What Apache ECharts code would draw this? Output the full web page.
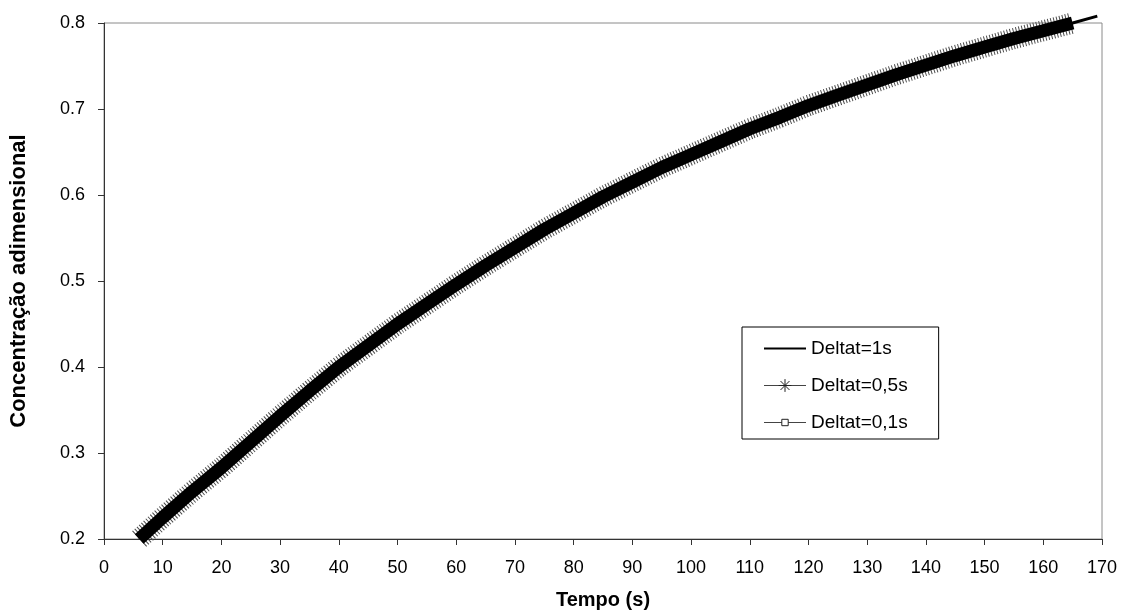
<!DOCTYPE html>
<html>
<head>
<meta charset="utf-8">
<script src="https://cdn.jsdelivr.net/npm/echarts@6/dist/echarts.min.js"></script>
<style>
    html, body { margin: 0; padding: 0; background: #fff; }
    #chart { width: 1123px; height: 616px; }
</style>
</head>
<body>
<div id="chart"></div>
<script>
// tempo (s)
const tempo = [6, 10, 15, 20, 25, 30, 35, 40, 45, 50, 55, 60, 65, 70, 75, 80, 85, 90, 95, 100,
    105, 110, 115, 120, 125, 130, 135, 140, 145, 150, 155, 160, 165, 169.2];

// concentração adimensional
const concDelta1 = [0.200, 0.225, 0.255, 0.283, 0.313, 0.343, 0.372, 0.400, 0.425, 0.450, 0.473, 0.496,
    0.518, 0.539, 0.560, 0.579, 0.598, 0.615, 0.632, 0.647, 0.662, 0.677, 0.690, 0.704, 0.716, 0.728,
    0.740, 0.751, 0.762, 0.772, 0.782, 0.791, 0.800, 0.808];
const concDelta05 = [0.200, 0.225, 0.255, 0.283, 0.313, 0.343, 0.372, 0.400, 0.425, 0.450, 0.473, 0.496,
    0.518, 0.539, 0.560, 0.579, 0.598, 0.615, 0.632, 0.647, 0.662, 0.677, 0.690, 0.704, 0.716, 0.728,
    0.740, 0.751, 0.762, 0.772, 0.782, 0.791, 0.800];
const concDelta01 = [0.200, 0.225, 0.255, 0.283, 0.313, 0.343, 0.372, 0.400, 0.425, 0.450, 0.473, 0.496,
    0.518, 0.539, 0.560, 0.579, 0.598, 0.615, 0.632, 0.647, 0.662, 0.677, 0.690, 0.704, 0.716, 0.728,
    0.740, 0.751, 0.762, 0.772, 0.782, 0.791, 0.800];

const nomes = ['Deltat=1s', 'Deltat=0,5s', 'Deltat=0,1s'];

const pares = (vals) => vals.map((v, i) => [tempo[i], v]);

const fonte = 'Liberation Sans, Arial, sans-serif';
const estrela = 'path://M0,6L12,6M6,0L6,12M1.8,1.8L10.2,10.2M10.2,1.8L1.8,10.2';
const quadrado = 'path://M0,0M12,12M3,3L9,3L9,9L3,9Z';

const chart = echarts.init(document.getElementById('chart'));

chart.setOption({
    animation: false,
    backgroundColor: '#fff',
    grid: {
        left: 103,
        right: 21,
        top: 23,
        bottom: 77,
        show: true,
        borderColor: '#8a8a8a',
        borderWidth: 1
    },
    legend: {
        orient: 'vertical',
        left: 742,
        top: 327,
        padding: [12, 31, 7, 21],
        itemGap: 18,
        itemWidth: 42,
        itemHeight: 16,
        backgroundColor: '#fff',
        borderColor: '#000',
        borderWidth: 1,
        borderRadius: 0,
        textStyle: { fontFamily: fonte, fontSize: 19, color: '#000' },
        data: [
            {
                name: nomes[0],
                itemStyle: { opacity: 0 },
                lineStyle: { color: '#000', width: 2, type: 'solid' }
            },
            {
                name: nomes[1],
                itemStyle: { color: 'transparent', borderColor: '#222', borderWidth: 1 },
                lineStyle: { color: '#444', width: 1, type: 'solid' }
            },
            {
                name: nomes[2],
                itemStyle: { color: '#fff', borderColor: '#222', borderWidth: 1 },
                lineStyle: { color: '#444', width: 1, type: 'solid' }
            }
        ]
    },
    xAxis: {
        type: 'value',
        min: 0,
        max: 170,
        interval: 10,
        name: 'Tempo (s)',
        nameLocation: 'middle',
        nameGap: 51,
        nameTextStyle: { fontFamily: fonte, fontSize: 20, fontWeight: 'bold', color: '#000' },
        axisLine: { show: true, lineStyle: { color: '#333', width: 1 } },
        axisTick: { show: true, inside: false, length: 6, lineStyle: { color: '#333' } },
        axisLabel: { fontFamily: fonte, fontSize: 18, color: '#000', margin: 20 },
        splitLine: { show: false }
    },
    yAxis: {
        type: 'value',
        min: 0.2,
        max: 0.8,
        interval: 0.1,
        name: 'Concentração adimensional',
        nameLocation: 'middle',
        nameGap: 74,
        nameTextStyle: { fontFamily: fonte, fontSize: 22, fontWeight: 'bold', color: '#000' },
        axisLine: { show: true, lineStyle: { color: '#333', width: 1 } },
        axisTick: { show: true, inside: false, length: 6, lineStyle: { color: '#333' } },
        axisLabel: {
            fontFamily: fonte,
            fontSize: 18,
            color: '#000',
            margin: 19,
            formatter: (v) => v.toFixed(1)
        },
        splitLine: { show: false }
    },
    series: [
        {
            // marcadores estrela: faixa tracejada cinza larga
            name: nomes[1],
            type: 'line',
            z: 2,
            clip: false,
            symbol: estrela,
            showSymbol: false,
            itemStyle: { color: '#444' },
            lineStyle: { color: '#4a4a4a', width: 21, type: [1, 2], cap: 'butt' },
            data: pares(concDelta05)
        },
        {
            name: nomes[2],
            type: 'line',
            z: 3,
            clip: false,
            symbol: quadrado,
            showSymbol: false,
            itemStyle: { color: '#000' },
            lineStyle: { color: '#000', width: 13, cap: 'butt' },
            data: pares(concDelta01)
        },
        {
            name: nomes[0],
            type: 'line',
            z: 4,
            clip: false,
            symbol: 'none',
            itemStyle: { color: '#000' },
            lineStyle: { color: '#000', width: 3 },
            data: pares(concDelta1)
        }
    ]
});
</script>
</body>
</html>
